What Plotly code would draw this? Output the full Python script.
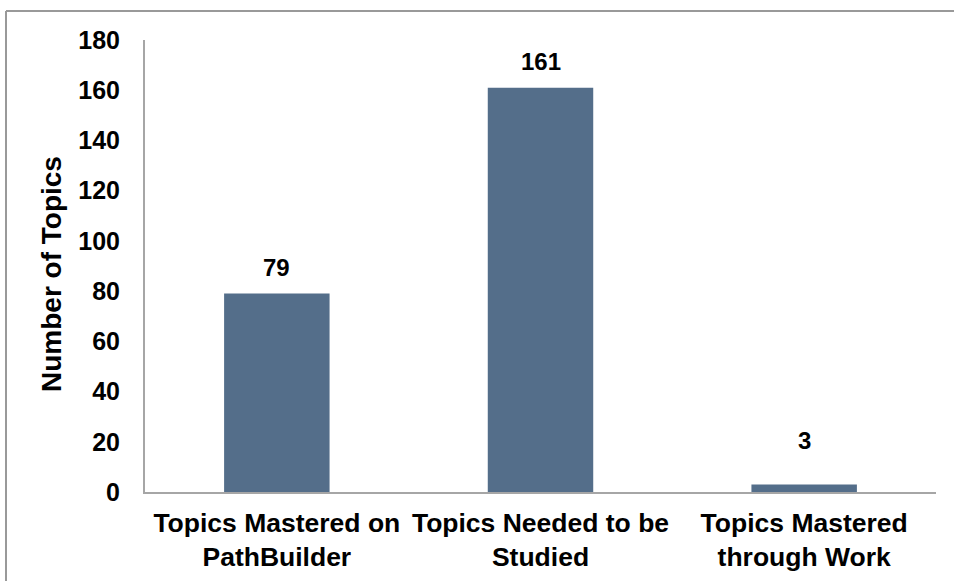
import plotly.graph_objects as go

categories = [
    "Topics Mastered on<br>PathBuilder",
    "Topics Needed to be<br>Studied",
    "Topics Mastered<br>through Work",
]
topic_counts = [79, 161, 3]
y_ticks = [0, 20, 40, 60, 80, 100, 120, 140, 160, 180]

BAR_COLOR = "#546E8A"
AXIS_COLOR = "#A6A6A6"
FONT = "Liberation Sans, Arial, sans-serif"

W, H = 954, 581
L, R, T, B = 145, 18, 40, 89
pw, ph = W - L - R, H - T - B

fig = go.Figure(
    go.Bar(
        x=categories,
        y=topic_counts,
        marker=dict(color=BAR_COLOR, line=dict(width=0)),
        width=0.4,
        hoverinfo="x+y",
    )
)

# value labels above each bar (extra lift for the short bar)
label_lift = [11, 11, 28]
for cat, val, lift in zip(categories, topic_counts, label_lift):
    fig.add_annotation(
        x=cat, y=val, text=f"<b>{val}</b>", showarrow=False,
        yanchor="bottom", yshift=lift,
        font=dict(family=FONT, size=24, color="#000000"),
    )


def px_x(p):
    return (p - L) / pw


def px_y(p):
    return (H - B - p) / ph


# vertical axis title
fig.add_annotation(
    xref="paper", yref="paper", x=px_x(51), y=px_y(274),
    text="<b>Number of Topics</b>", textangle=-90, showarrow=False,
    xanchor="center", yanchor="middle",
    font=dict(family=FONT, size=28, color="#000000"),
)

# outer frame (top and left edges)
frame = dict(color="#999999", width=2)
fig.add_shape(type="line", xref="paper", yref="paper",
              x0=px_x(6), x1=px_x(W + 2), y0=px_y(11), y1=px_y(11), line=frame)
fig.add_shape(type="line", xref="paper", yref="paper",
              x0=px_x(6), x1=px_x(6), y0=px_y(11), y1=px_y(H + 2), line=frame)

fig.update_layout(
    width=W, height=H,
    margin=dict(l=L, r=R, t=T, b=B, autoexpand=False),
    paper_bgcolor="white", plot_bgcolor="white",
    showlegend=False,
    bargap=0.6,
    font=dict(family=FONT, color="#000000"),
)

fig.update_xaxes(
    showline=True, linecolor=AXIS_COLOR, linewidth=2,
    showgrid=False, ticks="", zeroline=False,
    tickfont=dict(family=FONT, size=26.5, color="#000000"),
    ticklabelstandoff=6,
    tickprefix="<b>", ticksuffix="</b>",
)
fig.update_yaxes(
    range=[0, 180], tickvals=y_ticks,
    ticktext=[f"<b>{v}</b>" for v in y_ticks],
    showline=True, linecolor=AXIS_COLOR, linewidth=2,
    showgrid=False, ticks="", zeroline=False,
    tickfont=dict(family=FONT, size=25, color="#000000"),
    ticklabelstandoff=18,
)

fig.write_html("out.html")
